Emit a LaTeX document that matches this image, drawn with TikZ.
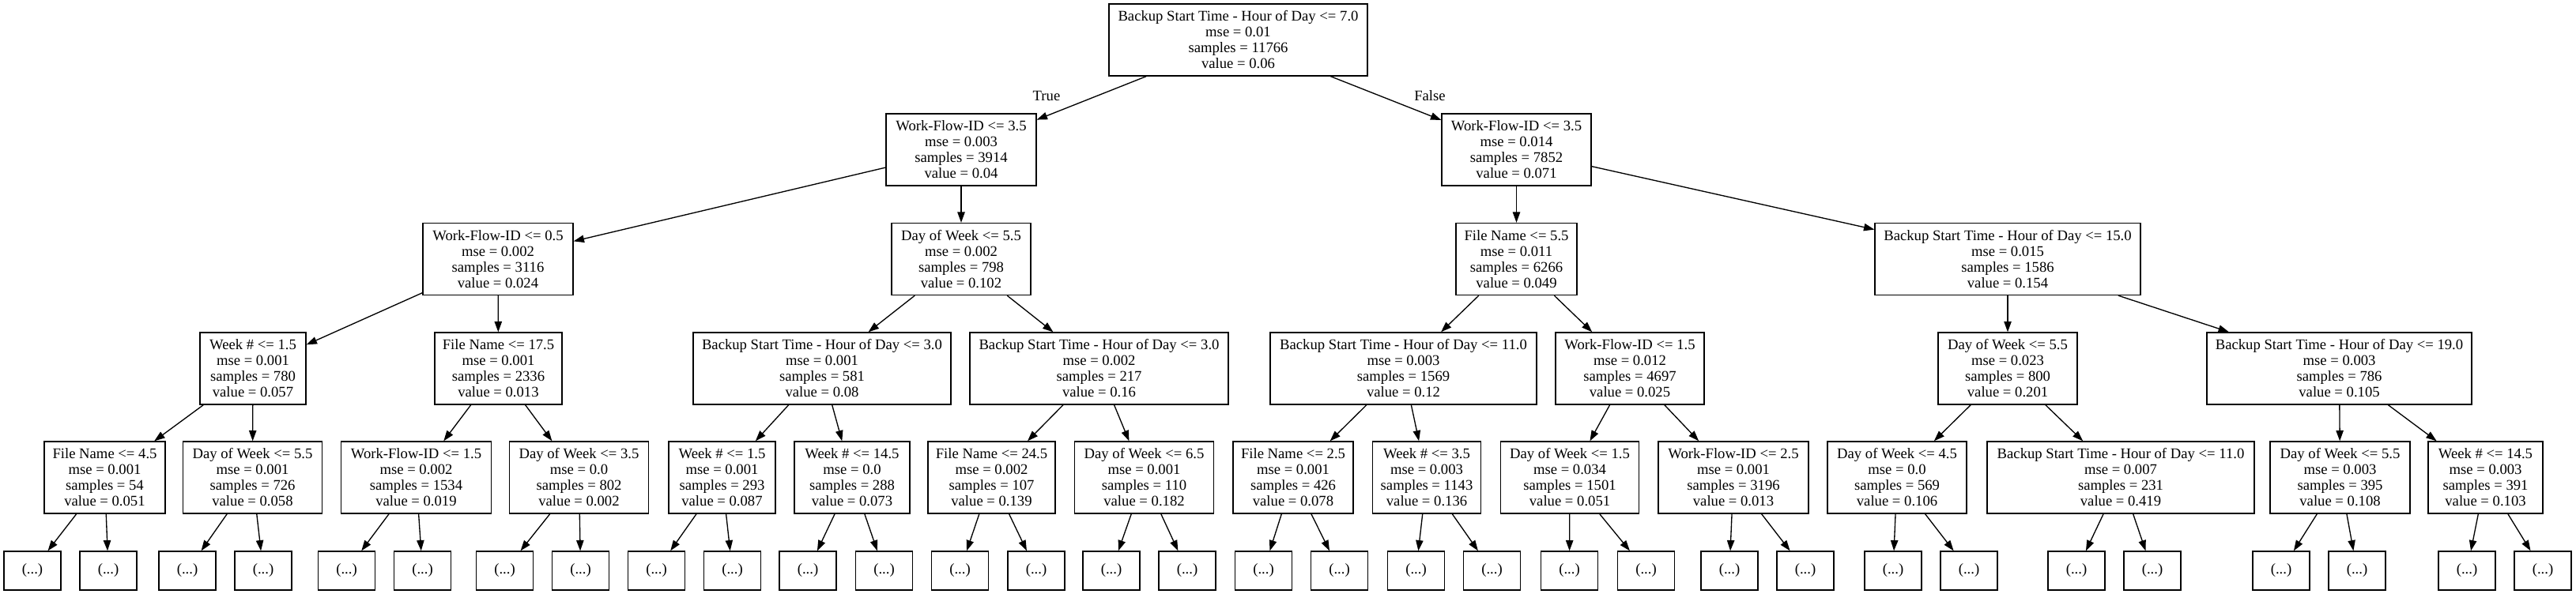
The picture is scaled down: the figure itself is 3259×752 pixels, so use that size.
\documentclass[tikz,border=0pt]{standalone}
\usepackage{fontspec}
\setmainfont{Liberation Serif}
\usetikzlibrary{arrows.meta}
\newcommand\tlines[4]{#1\\mse = #2\\samples = #3\\value = #4}
\begin{document}
\begin{tikzpicture}[x=0.75pt,y=-0.75pt,
  box/.style={draw=black, line width=1pt, rectangle, align=center, inner sep=0pt,
    minimum height=68.25pt, font=\fontsize{14}{15}\selectfont},
  wd/.style={minimum width={#1*0.75pt}},
  leaf/.style={draw=black, line width=1pt, rectangle, inner sep=0pt,
    minimum width=54pt, minimum height=36.75pt, font=\fontsize{14}{15}\selectfont},
  edge/.style={draw=black, line width=1pt, -{Triangle[length=10pt,width=7pt]}},
  lbl/.style={font=\fontsize{14}{15}\selectfont, inner sep=0pt}
]
\useasboundingbox (0,0) rectangle (3259,752);

% level 0
\node[box,wd=327] (R) at (1566.5,50.5) {\tlines{Backup Start Time - Hour of Day <= 7.0}{0.01}{11766}{0.06}};
% level 1
\node[box,wd=190] (A) at (1216,189.5) {\tlines{Work-Flow-ID <= 3.5}{0.003}{3914}{0.04}};
\node[box,wd=189] (B) at (1918.5,189.5) {\tlines{Work-Flow-ID <= 3.5}{0.014}{7852}{0.071}};
% level 2
\node[box,wd=190] (C) at (630,328) {\tlines{Work-Flow-ID <= 0.5}{0.002}{3116}{0.024}};
\node[box,wd=176] (D) at (1216,328) {\tlines{Day of Week <= 5.5}{0.002}{798}{0.102}};
\node[box,wd=153] (E) at (1918.5,328) {\tlines{File Name <= 5.5}{0.011}{6266}{0.049}};
\node[box,wd=336] (F) at (2540,328) {\tlines{Backup Start Time - Hour of Day <= 15.0}{0.015}{1586}{0.154}};
% level 3
\node[box,wd=134] (G) at (320,466.5) {\tlines{Week \# <= 1.5}{0.001}{780}{0.057}};
\node[box,wd=161] (H) at (630.5,466.5) {\tlines{File Name <= 17.5}{0.001}{2336}{0.013}};
\node[box,wd=326] (I) at (1040,466.5) {\tlines{Backup Start Time - Hour of Day <= 3.0}{0.001}{581}{0.08}};
\node[box,wd=327] (J) at (1390.5,466.5) {\tlines{Backup Start Time - Hour of Day <= 3.0}{0.002}{217}{0.16}};
\node[box,wd=337] (K) at (1775.5,466.5) {\tlines{Backup Start Time - Hour of Day <= 11.0}{0.003}{1569}{0.12}};
\node[box,wd=188] (L) at (2062,466.5) {\tlines{Work-Flow-ID <= 1.5}{0.012}{4697}{0.025}};
\node[box,wd=176] (M) at (2540,466.5) {\tlines{Day of Week <= 5.5}{0.023}{800}{0.201}};
\node[box,wd=335] (N) at (2959.5,466.5) {\tlines{Backup Start Time - Hour of Day <= 19.0}{0.003}{786}{0.105}};
% level 4
\node[box,wd=153] (O1) at (132.5,604.5) {\tlines{File Name <= 4.5}{0.001}{54}{0.051}};
\node[box,wd=176] (O2) at (319.5,604.5) {\tlines{Day of Week <= 5.5}{0.001}{726}{0.058}};
\node[box,wd=190] (O3) at (526.5,604.5) {\tlines{Work-Flow-ID <= 1.5}{0.002}{1534}{0.019}};
\node[box,wd=176] (O4) at (732.5,604.5) {\tlines{Day of Week <= 3.5}{0.0}{802}{0.002}};
\node[box,wd=135] (O5) at (913.5,604.5) {\tlines{Week \# <= 1.5}{0.001}{293}{0.087}};
\node[box,wd=146] (O6) at (1078,604.5) {\tlines{Week \# <= 14.5}{0.0}{288}{0.073}};
\node[box,wd=161] (O7) at (1254.5,604.5) {\tlines{File Name <= 24.5}{0.002}{107}{0.139}};
\node[box,wd=176] (O8) at (1447.5,604.5) {\tlines{Day of Week <= 6.5}{0.001}{110}{0.182}};
\node[box,wd=152] (O9) at (1636,604.5) {\tlines{File Name <= 2.5}{0.001}{426}{0.078}};
\node[box,wd=137] (O10) at (1805,604.5) {\tlines{Week \# <= 3.5}{0.003}{1143}{0.136}};
\node[box,wd=175] (O11) at (1986,604.5) {\tlines{Day of Week <= 1.5}{0.034}{1501}{0.051}};
\node[box,wd=190] (O12) at (2193,604.5) {\tlines{Work-Flow-ID <= 2.5}{0.001}{3196}{0.013}};
\node[box,wd=176] (O13) at (2400,604.5) {\tlines{Day of Week <= 4.5}{0.0}{569}{0.106}};
\node[box,wd=338] (O14) at (2683,604.5) {\tlines{Backup Start Time - Hour of Day <= 11.0}{0.007}{231}{0.419}};
\node[box,wd=177] (O15) at (2960.5,604.5) {\tlines{Day of Week <= 5.5}{0.003}{395}{0.108}};
\node[box,wd=145] (O16) at (3144.5,604.5) {\tlines{Week \# <= 14.5}{0.003}{391}{0.103}};
% leaves
\foreach \i/\x in {1/41,2/137,3/237,4/333,5/438.5,6/534.5,7/638.5,8/734.5,
  9/830.5,10/926.5,11/1022,12/1118.5,13/1214.5,14/1311,15/1406,16/1502,
  17/1598.5,18/1694.5,19/1791.5,20/1887.5,21/1985.5,22/2082.5,23/2188,24/2284,
  25/2395,26/2491,27/2627,28/2723,29/2886,30/2982,31/3121,32/3217}
  \node[leaf] (x\i) at (\x,722.5) {(...)};

% edge labels
\node[lbl] (tlab) at (1324,121) {True};
\node[lbl] (flab) at (1809,121) {False};

% edges
\foreach \p/\c in {R/A,R/B,A/C,A/D,B/E,B/F,C/G,C/H,D/I,D/J,E/K,E/L,F/M,F/N,
  G/O1,G/O2,H/O3,H/O4,I/O5,I/O6,J/O7,J/O8,K/O9,K/O10,L/O11,L/O12,M/O13,M/O14,N/O15,N/O16}
  \draw[edge] (\p) -- (\c);
\foreach \i in {1,...,16}{
  \pgfmathtruncatemacro\la{2*\i-1}
  \pgfmathtruncatemacro\lb{2*\i}
  \draw[edge] (O\i) -- (x\la);
  \draw[edge] (O\i) -- (x\lb);
}
\end{tikzpicture}
\end{document}
